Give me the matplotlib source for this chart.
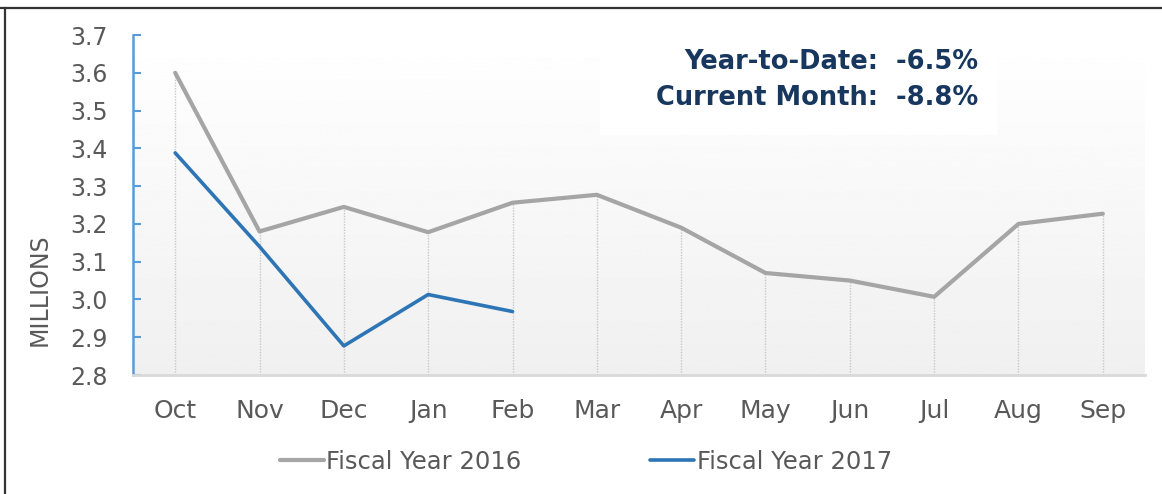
import numpy as np
import matplotlib
matplotlib.use('Agg')
import matplotlib.pyplot as plt
from matplotlib.lines import Line2D

# data (millions)
months = ['Oct', 'Nov', 'Dec', 'Jan', 'Feb', 'Mar',
          'Apr', 'May', 'Jun', 'Jul', 'Aug', 'Sep']
fy2016 = [3.60, 3.18, 3.245, 3.178, 3.256, 3.277,
          3.19, 3.07, 3.05, 3.007, 3.20, 3.227]
fy2017 = [3.388, 3.14, 2.877, 3.013, 2.968]
yticks = [2.8, 2.9, 3.0, 3.1, 3.2, 3.3, 3.4, 3.5, 3.6, 3.7]
ytd_label = 'Year-to-Date:  -6.5%'
month_label = 'Current Month:  -8.8%'

plt.rcParams['font.family'] = ['DejaVu Sans']
text_grey = '#595959'
navy = '#17375e'

fig = plt.figure(figsize=(11.62, 4.94), dpi=100)
ax = fig.add_axes([133 / 1162, 1 - 375 / 494, 1012 / 1162, 340 / 494])

x16 = np.arange(len(fy2016))
x17 = np.arange(len(fy2017))

# soft vertical gradient behind the plot
grad = np.linspace(0.94, 1.0, 256).reshape(-1, 1)
ax.imshow(grad, cmap='gray', vmin=0, vmax=1, origin='lower',
          extent=[-0.5, 11.5, 2.8, 3.7], aspect='auto', zorder=0)

# drop lines
tops = [max(fy2016[i], fy2017[i]) if i < len(fy2017) else fy2016[i]
        for i in range(len(fy2016))]
ax.vlines(x16, 2.8, tops, colors='#c8c8c8', linestyles=(0, (1, 1)),
          linewidth=1, zorder=1)

ax.plot(x16, fy2016, color='#a5a5a5', lw=3.0, solid_capstyle='round',
        label='Fiscal Year 2016', zorder=3)
ax.plot(x17, fy2017, color='#2e75b6', lw=2.6, solid_capstyle='round',
        label='Fiscal Year 2017', zorder=4)

ax.set_xlim(-0.5, 11.5)
ax.set_ylim(2.8, 3.7)
ax.set_xticks(x16)
ax.set_xticklabels(months)
ax.set_yticks(yticks)
ax.set_yticklabels([f'{v:.1f}' for v in yticks])

ax.tick_params(axis='x', length=0, pad=17, labelsize=18, labelcolor=text_grey)
ax.tick_params(axis='y', direction='in', length=6, width=1.5, color='#5b9bd5',
               pad=18, labelsize=17, labelcolor=text_grey)

for s in ['top', 'right']:
    ax.spines[s].set_visible(False)
ax.spines['left'].set_color('#5b9bd5')
ax.spines['left'].set_linewidth(1.8)
ax.spines['bottom'].set_color('#d9d9d9')
ax.spines['bottom'].set_linewidth(2)

# white box with YTD text
ax.add_patch(plt.Rectangle((600 / 1162, 1 - 135 / 494), 397 / 1162, 90 / 494,
                           transform=fig.transFigure, facecolor='white',
                           edgecolor='none', zorder=2))
fig.text(978 / 1162, 1 - 62 / 494, ytd_label, ha='right', va='center',
         fontsize=18.5, fontweight='bold', color=navy)
fig.text(978 / 1162, 1 - 98 / 494, month_label, ha='right', va='center',
         fontsize=18.5, fontweight='bold', color=navy)

fig.text(40 / 1162, 1 - 290 / 494, 'MILLIONS', rotation=90, ha='center',
         va='center', fontsize=17, color=text_grey)

leg = ax.legend(loc='center', bbox_to_anchor=(586 / 1162, 1 - 462 / 494),
                bbox_transform=fig.transFigure, ncol=2, frameon=False,
                fontsize=17.5, handlelength=1.8, handletextpad=0.1,
                columnspacing=5.3)
for t in leg.get_texts():
    t.set_color(text_grey)

# page frame lines
fig.add_artist(Line2D([0, 1], [1 - 8 / 494] * 2, transform=fig.transFigure,
                      color='#333333', lw=1.6))
fig.add_artist(Line2D([5 / 1162] * 2, [0, 1 - 8 / 494], transform=fig.transFigure,
                      color='#333333', lw=1.6))

fig.savefig('out.png', dpi=100)
